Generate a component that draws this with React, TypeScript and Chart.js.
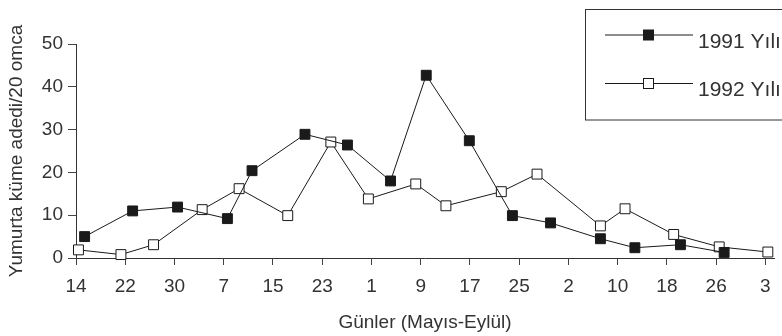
import React, { useEffect, useRef } from 'react';
import { Chart, registerables } from 'chart.js';

Chart.register(...registerables);

// Days counted from 14 May; ticks every 8 days (May–September)
const tickDays = [0, 8, 16, 24, 32, 40, 48, 56, 64, 72, 80, 88, 96, 104, 112];
const tickLabels = ['14', '22', '30', '7', '15', '23', '1', '9', '17', '25', '2', '10', '18', '26', '3'];

const days1991 = [1.4, 9.2, 16.5, 24.6, 28.6, 37.2, 44.1, 51.1, 56.9, 63.9, 70.9, 77.1, 85.2, 90.8, 98.2, 105.3];
const eggs1991 = [5.0, 11.0, 11.9, 9.2, 20.4, 28.9, 26.4, 18.0, 42.7, 27.4, 9.9, 8.2, 4.5, 2.4, 3.1, 1.3];

const days1992 = [0.4, 7.3, 12.6, 20.5, 26.5, 34.4, 41.4, 47.5, 55.2, 60.1, 69.1, 74.9, 85.2, 89.2, 97.1, 104.5, 112.4];
const eggs1992 = [1.9, 0.8, 3.1, 11.3, 16.2, 9.9, 27.1, 13.8, 17.3, 12.2, 15.5, 19.6, 7.5, 11.5, 5.5, 2.6, 1.4];

const seriesLabels = ['1991 Yılı', '1992 Yılı'];

const FONT = '"Liberation Sans", Arial, sans-serif';
const TEXT = '#333333';
const INK = '#1a1a1a';

const legendPlugin = {
  id: 'boxLegend',
  afterDraw(chart: any) {
    const ctx = chart.ctx;
    ctx.save();
    ctx.strokeStyle = '#333';
    ctx.lineWidth = 1;
    ctx.strokeRect(585.5, 9.5, 300, 110.5);
    const rows = [35, 83.5];
    chart.data.datasets.forEach((ds: any, i: number) => {
      const y = rows[i];
      ctx.beginPath();
      ctx.strokeStyle = INK;
      ctx.lineWidth = 1;
      ctx.moveTo(605, y);
      ctx.lineTo(693, y);
      ctx.stroke();
      const s = 10;
      ctx.fillStyle = ds.pointBackgroundColor;
      ctx.fillRect(648.5 - s / 2, y - s / 2, s, s);
      ctx.strokeRect(648.5 - s / 2, y - s / 2, s, s);
      ctx.fillStyle = TEXT;
      ctx.font = `21px ${FONT}`;
      ctx.textBaseline = 'alphabetic';
      ctx.textAlign = 'left';
      ctx.fillText(ds.label, 698, y + 12.5);
    });
    ctx.restore();
  },
};

export default function App() {
  const ref = useRef<HTMLCanvasElement | null>(null);
  useEffect(() => {
    if (!ref.current) return;
    const chart = new Chart(ref.current, {
      type: 'line',
      data: {
        datasets: [
          {
            label: seriesLabels[0],
            data: days1991.map((d, i) => ({ x: d, y: eggs1991[i] })),
            borderColor: INK,
            borderWidth: 1,
            pointStyle: 'rect',
            pointRadius: 7,
            pointBorderWidth: 1,
            pointBackgroundColor: INK,
            pointBorderColor: INK,
            tension: 0,
            clip: false,
          } as any,
          {
            label: seriesLabels[1],
            data: days1992.map((d, i) => ({ x: d, y: eggs1992[i] })),
            borderColor: INK,
            borderWidth: 1,
            pointStyle: 'rect',
            pointRadius: 7,
            pointBorderWidth: 1,
            pointBackgroundColor: '#ffffff',
            pointBorderColor: INK,
            tension: 0,
            clip: false,
          } as any,
        ],
      },
      options: {
        animation: false,
        responsive: false,
        devicePixelRatio: 1,
        layout: { padding: { top: 44, right: 4, left: 0, bottom: 0 } },
        plugins: { legend: { display: false }, tooltip: { enabled: false } },
        scales: {
          x: {
            type: 'linear',
            min: 0,
            max: 113.4,
            afterBuildTicks: (s: any) => {
              s.ticks = tickDays.map((v) => ({ value: v }));
            },
            afterFit: (s: any) => {
              s.height = 78;
            },
            ticks: {
              autoSkip: false,
              maxRotation: 0,
              padding: 10,
              color: TEXT,
              font: { family: FONT, size: 19 },
              callback: (v: any) => {
                const i = tickDays.indexOf(Number(v));
                return i >= 0 ? tickLabels[i] : '';
              },
            },
            grid: { display: true, drawOnChartArea: false, drawTicks: true, tickLength: 7, color: '#444' },
            border: { display: true, color: '#333', width: 1 },
            title: {
              display: true,
              text: 'Günler (Mayıs-Eylül)',
              color: TEXT,
              font: { family: FONT, size: 19 },
              padding: { top: 2, bottom: 2 },
            },
          },
          y: {
            min: 0,
            max: 50,
            afterFit: (s: any) => {
              s.width = 76;
            },
            ticks: {
              stepSize: 10,
              padding: 5,
              color: TEXT,
              font: { family: FONT, size: 19 },
            },
            grid: { display: true, drawOnChartArea: false, drawTicks: true, tickLength: 8, color: '#444' },
            border: { display: true, color: '#333', width: 1 },
            title: {
              display: true,
              text: 'Yumurta küme adedi/20 omca',
              color: TEXT,
              font: { family: FONT, size: 19 },
              padding: { top: 5, bottom: 4 },
            },
          },
        },
      } as any,
      plugins: [legendPlugin],
    });
    return () => chart.destroy();
  }, []);
  return (
    <div style={{ position: 'fixed', left: 0, top: 0, width: 782, height: 336, background: '#fff' }}>
      <canvas ref={ref} width={782} height={336} style={{ display: 'block', width: 782, height: 336 }} />
    </div>
  );
}
